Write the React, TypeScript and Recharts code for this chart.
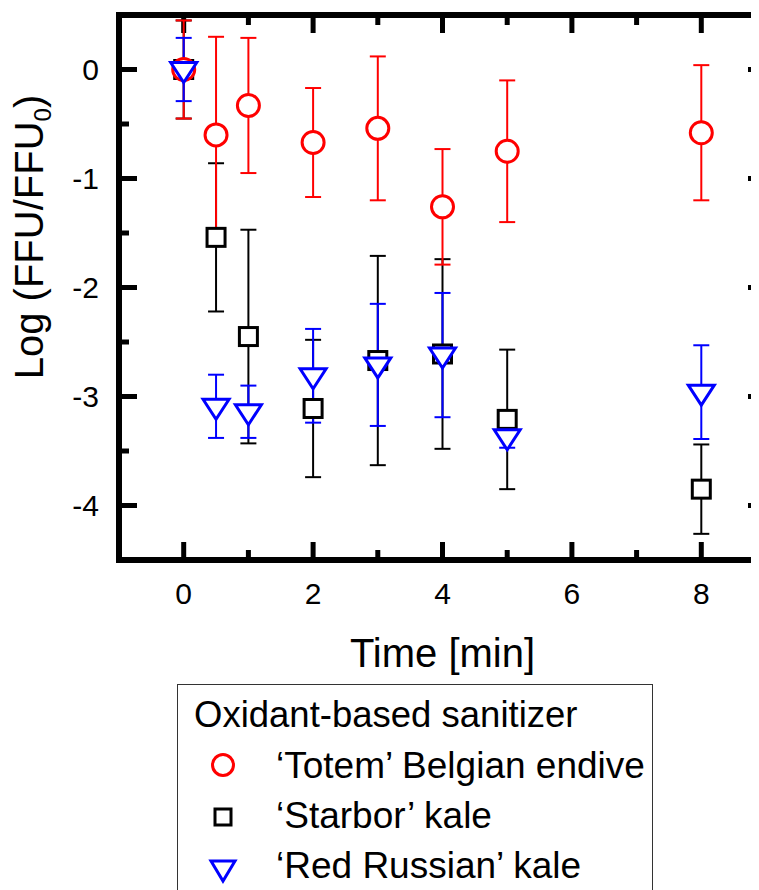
import React from "react";
import {
  ScatterChart,
  Scatter,
  XAxis,
  YAxis,
  ErrorBar,
  Legend,
  Label,
  ReferenceLine,
} from "recharts";

const FONT = "'Liberation Sans', Arial, sans-serif";

// sampling times [min]
const times = [0, 0.5, 1, 2, 3, 4, 5, 8];

// 'Totem' Belgian endive
const totemMean = [0, -0.6, -0.33, -0.67, -0.54, -1.26, -0.75, -0.58];
const totemErr = [0.45, 0.9, 0.62, 0.5, 0.66, 0.53, 0.65, 0.62];

// 'Starbor' kale
const starborMean = [0, -1.54, -2.45, -3.11, -2.67, -2.61, -3.21, -3.85];
const starborErr = [0.45, 0.68, 0.98, 0.63, 0.96, 0.87, 0.64, 0.41];

// 'Red Russian' kale
const redRussianMean = [0, -3.09, -3.14, -2.81, -2.71, -2.62, -3.37, -2.96];
const redRussianErr = [0.29, 0.29, 0.24, 0.43, 0.56, 0.57, 0.1, 0.43];

const xTicks = [0, 1, 2, 3, 4, 5, 6, 7, 8];
const yTicks = [-4, -3.5, -3, -2.5, -2, -1.5, -1, -0.5, 0];
const xDomain = [-1, 9];
const yDomain = [-4.5, 0.5];

const legendTitle = "Oxidant-based sanitizer";
const legendNames = [
  "\u2018Totem\u2019 Belgian endive",
  "\u2018Starbor\u2019 kale",
  "\u2018Red Russian\u2019 kale",
];

const RED = "#ff0000";
const BLACK = "#000000";
const BLUE = "#0000ff";

const rows = (mean: number[], err: number[]) =>
  times.map((t, i) => ({ t, y: mean[i], err: err[i] }));

// chart layout
const CHART_W = 780;
const CHART_H = 900;
const Y_AXIS_W = 111;
const X_AXIS_H = 60;
const PLOT_W = 647;
const PLOT_H = 545;
const TOP = 6;

const AXIS_LINE = { stroke: "#000", strokeWidth: 6, strokeLinecap: "square" as const };
const MAJOR = 18;
const MINOR = 10;

// tick length in data units, so the inward ticks go through the axis scales
const xLen = (px: number) => (px * (xDomain[1] - xDomain[0])) / PLOT_W;
const yLen = (px: number) => (px * (yDomain[1] - yDomain[0])) / PLOT_H;

const BottomTick = ({ x, y, payload }: any) => {
  const v = payload.value;
  if (v % 2 !== 0) return <g />;
  return (
    <text x={x} y={y + 44} textAnchor="middle" fontSize={30} fontFamily={FONT} fill="#000">
      {v}
    </text>
  );
};

const LeftTick = ({ x, y, payload }: any) => {
  const v = payload.value;
  if (!Number.isInteger(v)) return <g />;
  return (
    <text x={x - 20} y={y} dy="0.36em" textAnchor="end" fontSize={30} fontFamily={FONT} fill="#000">
      {v}
    </text>
  );
};

const CircleMark = ({ cx, cy }: any) => (
  <circle cx={cx} cy={cy} r={11} fill="#fff" stroke={RED} strokeWidth={3} />
);
const SquareMark = ({ cx, cy }: any) => (
  <rect x={cx - 9} y={cy - 9} width={18} height={18} fill="#fff" stroke={BLACK} strokeWidth={3} />
);
const TriangleMark = ({ cx, cy }: any) => (
  <path
    d={`M${cx - 13},${cy - 7}L${cx + 13},${cy - 7}L${cx},${cy + 13}Z`}
    fill="#fff"
    stroke={BLUE}
    strokeWidth={3}
  />
);

const XTitle = ({ viewBox }: any) => (
  <text
    x={viewBox.x + viewBox.width / 2}
    y={viewBox.y + 107}
    textAnchor="middle"
    fontSize={40}
    fontFamily={FONT}
    fill="#000"
  >
    Time [min]
  </text>
);

const YTitle = ({ viewBox }: any) => {
  const x = 35;
  const y = viewBox.y + 222;
  return (
    <text
      x={x}
      y={y}
      transform={`rotate(-90, ${x}, ${y})`}
      textAnchor="middle"
      fontSize={40}
      fontFamily={FONT}
      fill="#000"
    >
      <tspan>Log (FFU/FFU</tspan>
      <tspan fontSize={24} dy={8}>0</tspan>
      <tspan dy={-8}>)</tspan>
    </text>
  );
};

const LegendBox = () => (
  <div
    style={{
      width: 476,
      height: 230,
      border: "1px solid #333",
      boxSizing: "border-box",
      background: "#fff",
    }}
  >
    <svg width={474} height={228} style={{ display: "block" }}>
      <text x={16} y={42} fontSize={36.5} fontFamily={FONT} fill="#000">
        {legendTitle}
      </text>
      <circle cx={45} cy={80} r={10.5} fill="#fff" stroke={RED} strokeWidth={3} />
      <rect x={37} y={124} width={16} height={16} fill="#fff" stroke={BLACK} strokeWidth={3} />
      <path d="M33,176L57,176L45,196Z" fill="#fff" stroke={BLUE} strokeWidth={3} />
      {legendNames.map((name, i) => (
        <text key={name} x={98} y={93 + i * 50} fontSize={37} fontFamily={FONT} fill="#000">
          {name}
        </text>
      ))}
    </svg>
  </div>
);

export default function App() {
  const margin = {
    top: TOP,
    left: 0,
    right: CHART_W - Y_AXIS_W - PLOT_W - 1,
    bottom: CHART_H - TOP - 1 - PLOT_H - X_AXIS_H,
  };
  const [x0, x1] = xDomain;
  const [y0, y1] = yDomain;
  return (
    <div style={{ width: 751, height: 882, overflow: "hidden", background: "#fff" }}>
      <ScatterChart width={CHART_W} height={CHART_H} margin={margin}>
        <XAxis
          xAxisId="bottom"
          orientation="bottom"
          type="number"
          dataKey="t"
          domain={xDomain}
          allowDataOverflow
          ticks={xTicks}
          interval={0}
          height={X_AXIS_H}
          tickSize={0}
          tickMargin={0}
          tickLine={false}
          axisLine={AXIS_LINE}
          tick={BottomTick}
        >
          <Label content={XTitle} />
        </XAxis>
        <XAxis
          xAxisId="top"
          orientation="top"
          type="number"
          domain={xDomain}
          allowDataOverflow
          height={1}
          tickLine={false}
          axisLine={AXIS_LINE}
          tick={false}
        />
        <YAxis
          yAxisId="left"
          orientation="left"
          type="number"
          dataKey="y"
          domain={yDomain}
          allowDataOverflow
          ticks={yTicks}
          interval={0}
          width={Y_AXIS_W}
          tickSize={0}
          tickMargin={0}
          tickLine={false}
          axisLine={AXIS_LINE}
          tick={LeftTick}
        >
          <Label content={YTitle} />
        </YAxis>
        <YAxis
          yAxisId="right"
          orientation="right"
          type="number"
          domain={yDomain}
          allowDataOverflow
          width={1}
          tickLine={false}
          axisLine={AXIS_LINE}
          tick={false}
        />

        {/* inward tick marks on bottom and top */}
        {xTicks.map((v) => {
          const d = yLen(v % 2 === 0 ? MAJOR : MINOR);
          return [
            <ReferenceLine
              key={`b${v}`}
              xAxisId="bottom"
              yAxisId="left"
              segment={[{ x: v, y: y0 }, { x: v, y: y0 + d }]}
              stroke={BLACK}
              strokeWidth={5}
              ifOverflow="visible"
            />,
            <ReferenceLine
              key={`t${v}`}
              xAxisId="bottom"
              yAxisId="left"
              segment={[{ x: v, y: y1 }, { x: v, y: y1 - d }]}
              stroke={BLACK}
              strokeWidth={5}
              ifOverflow="visible"
            />,
          ];
        })}
        {/* inward tick marks on left and right */}
        {yTicks.map((v) => {
          const d = xLen(Number.isInteger(v) ? MAJOR : MINOR);
          return [
            <ReferenceLine
              key={`l${v}`}
              xAxisId="bottom"
              yAxisId="left"
              segment={[{ x: x0, y: v }, { x: x0 + d, y: v }]}
              stroke={BLACK}
              strokeWidth={5}
              ifOverflow="visible"
            />,
            <ReferenceLine
              key={`r${v}`}
              xAxisId="bottom"
              yAxisId="left"
              segment={[{ x: x1, y: v }, { x: x1 - d, y: v }]}
              stroke={BLACK}
              strokeWidth={5}
              ifOverflow="visible"
            />,
          ];
        })}

        <Scatter
          name={legendNames[1]}
          xAxisId="bottom"
          yAxisId="left"
          data={rows(starborMean, starborErr)}
          shape={SquareMark}
          isAnimationActive={false}
        >
          <ErrorBar dataKey="err" direction="y" width={8} stroke={BLACK} strokeWidth={2} isAnimationActive={false} />
        </Scatter>
        <Scatter
          name={legendNames[0]}
          xAxisId="bottom"
          yAxisId="left"
          data={rows(totemMean, totemErr)}
          shape={CircleMark}
          isAnimationActive={false}
        >
          <ErrorBar dataKey="err" direction="y" width={8} stroke={RED} strokeWidth={2} isAnimationActive={false} />
        </Scatter>
        <Scatter
          name={legendNames[2]}
          xAxisId="bottom"
          yAxisId="left"
          data={rows(redRussianMean, redRussianErr)}
          shape={TriangleMark}
          isAnimationActive={false}
        >
          <ErrorBar dataKey="err" direction="y" width={8} stroke={BLUE} strokeWidth={2} isAnimationActive={false} />
        </Scatter>
        <Legend
          layout="vertical"
          verticalAlign="middle"
          align="center"
          wrapperStyle={{ left: 169, top: 676, width: 476, height: 230 }}
          content={LegendBox}
        />
      </ScatterChart>
    </div>
  );
}
